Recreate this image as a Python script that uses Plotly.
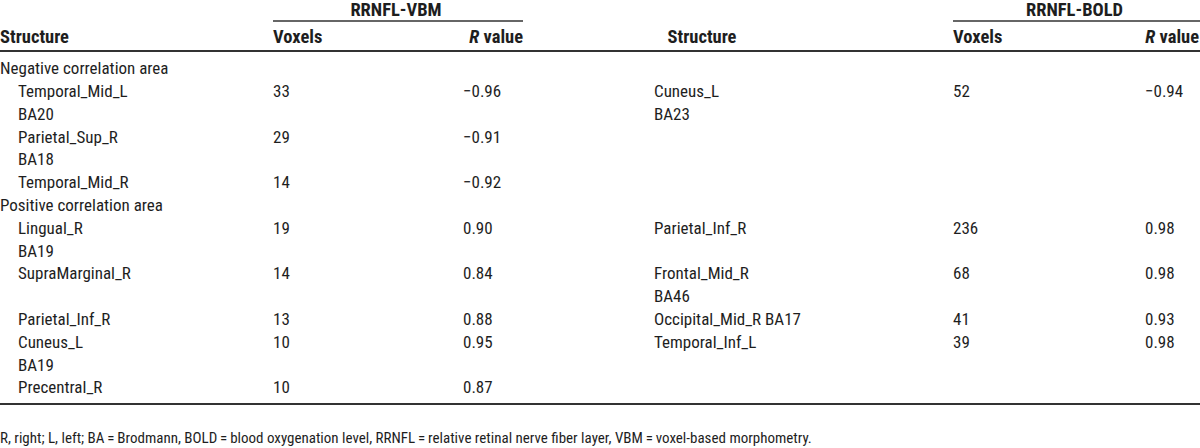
import plotly.graph_objects as go

# ---------------- data ----------------
group_left = "RRNFL-VBM"
group_right = "RRNFL-BOLD"
col_headers = ["Structure", "Voxels", "<i>R</i> value"]

left_structure = ["Negative correlation area", "Temporal_Mid_L", "BA20", "Parietal_Sup_R", "BA18",
                  "Temporal_Mid_R", "Positive correlation area", "Lingual_R", "BA19", "SupraMarginal_R",
                  "", "Parietal_Inf_R", "Cuneus_L", "BA19", "Precentral_R"]
left_voxels = ["", "33", "", "29", "", "14", "", "19", "", "14", "", "13", "10", "", "10"]
left_r = ["", "\u22120.96", "", "\u22120.91", "", "\u22120.92", "", "0.90", "", "0.84", "", "0.88", "0.95", "", "0.87"]

right_structure = ["", "Cuneus_L", "BA23", "", "", "", "", "Parietal_Inf_R", "", "Frontal_Mid_R",
                   "BA46", "Occipital_Mid_R BA17", "Temporal_Inf_L", "", ""]
right_voxels = ["", "52", "", "", "", "", "", "236", "", "68", "", "41", "39", "", ""]
right_r = ["", "\u22120.94", "", "", "", "", "", "0.98", "", "0.98", "", "0.93", "0.98", "", ""]

footnote = ("R, right; L, left; BA\u2009=\u2009Brodmann, BOLD\u2009=\u2009blood oxygenation level, "
            "RRNFL\u2009=\u2009relative retinal nerve fiber layer, VBM\u2009=\u2009voxel-based morphometry.")

# ---------------- layout constants ----------------
W, H = 1200, 448
FONT = "Roboto Condensed, DejaVu Sans Condensed, Liberation Sans Narrow, sans-serif"
BODY = 17
TXT = "#1e1e1e"
y_group = 11
y_thin = 21
y_head = 38
y_thick = 51
row0 = 70
pitch = 22.8
n = len(left_structure)
rows_y = [row0 + i * pitch for i in range(n)]
y_bottom = 404
y_foot = 439

x_l_head = 0
x_l_ind = 18
x_l_vox = 273
x_l_r = 463
x_l_rhead = 523
x_r_struct_c = 702
x_r_name = 654
x_r_vox = 953
x_r_r = 1145
x_r_rhead = 1199

fig = go.Figure()


def txt(xs, ys, texts, pos, size=BODY, bold=False):
    t = [f"<b>{s}</b>" if (bold and s) else s for s in texts]
    fig.add_trace(go.Scatter(x=xs, y=ys, text=t, mode="text", textposition=pos, cliponaxis=False,
                             textfont=dict(family=FONT, size=size, color=TXT),
                             hoverinfo="skip", showlegend=False))


# left table body
is_head = [("correlation area" in s) for s in left_structure]
txt([x_l_head if h else x_l_ind for h in is_head], rows_y, left_structure, "middle right")
txt([x_l_vox] * n, rows_y, left_voxels, "middle right")
txt([x_l_r] * n, rows_y, left_r, "middle right")
# right table body
txt([x_r_name] * n, rows_y, right_structure, "middle right")
txt([x_r_vox] * n, rows_y, right_voxels, "middle right")
txt([x_r_r] * n, rows_y, right_r, "middle right")

# headers
HB = 18.5
txt([(x_l_vox + x_l_rhead) / 2 - 2, (x_r_vox + W) / 2 - 2], [y_group, y_group], [group_left, group_right],
    "middle center", size=HB, bold=True)
txt([x_l_head, x_l_vox, x_r_vox], [y_head] * 3, [col_headers[0], col_headers[1], col_headers[1]],
    "middle right", size=HB, bold=True)
txt([x_r_struct_c], [y_head], [col_headers[0]], "middle center", size=HB, bold=True)
txt([x_l_rhead, x_r_rhead], [y_head] * 2, [col_headers[2], col_headers[2]], "middle left", size=HB, bold=True)

# footnote
txt([0], [y_foot], [footnote], "middle right", size=15)

# rules
line_col = "#333333"
fig.add_shape(type="line", x0=x_l_vox, x1=x_l_rhead, y0=y_thin, y1=y_thin, line=dict(color=line_col, width=1.5))
fig.add_shape(type="line", x0=x_r_vox, x1=W, y0=y_thin, y1=y_thin, line=dict(color=line_col, width=1.5))
fig.add_shape(type="line", x0=0, x1=W, y0=y_thick, y1=y_thick, line=dict(color=line_col, width=2))
fig.add_shape(type="line", x0=0, x1=W, y0=y_bottom, y1=y_bottom, line=dict(color=line_col, width=2))

fig.update_layout(
    width=W, height=H, margin=dict(l=0, r=0, t=0, b=0),
    paper_bgcolor="white", plot_bgcolor="white",
    xaxis=dict(range=[0, W], visible=False, fixedrange=True),
    yaxis=dict(range=[H, 0], visible=False, fixedrange=True),
)

fig.write_html("out.html", config={"displayModeBar": False},
               post_script="document.body.style.margin='0';document.body.style.overflow='hidden';")
